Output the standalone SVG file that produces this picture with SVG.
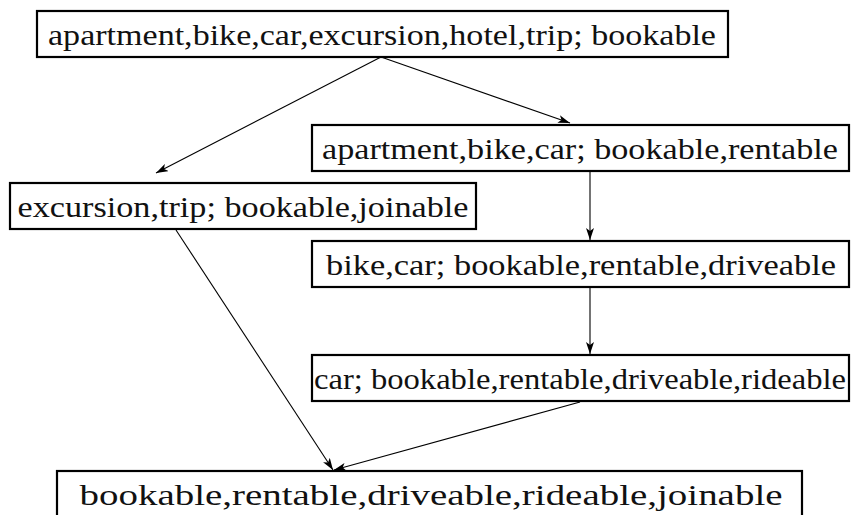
<svg xmlns="http://www.w3.org/2000/svg" width="867" height="515" viewBox="0 0 867 515">
  <style>
    .box { fill: #ffffff; stroke: #000000; stroke-width: 2.2; }
    .lbl { font-family: 'Liberation Serif', 'Times New Roman', serif; font-size: 29px; fill: #111111; text-anchor: middle; }
    .edge { fill: none; stroke: #000000; stroke-width: 1.1; marker-end: url(#arrow); }
  </style>
  <defs>
    <marker id="arrow" viewBox="0 0 12 8" refX="12" refY="4" markerWidth="12" markerHeight="8" markerUnits="userSpaceOnUse" orient="auto">
      <path d="M0,0 L12,4 L0,8 L3,4 Z" fill="#000000"/>
    </marker>
  </defs>

  <g id="connectors">
    <line class="edge" x1="381" y1="57" x2="156" y2="173"/>
    <line class="edge" x1="381" y1="57" x2="570" y2="123"/>
    <line class="edge" x1="590" y1="172" x2="590" y2="240"/>
    <line class="edge" x1="590" y1="288" x2="590" y2="354"/>
    <line class="edge" x1="176" y1="230" x2="333" y2="470"/>
    <line class="edge" x1="580" y1="402" x2="334" y2="470"/>
  </g>

  <g id="node-all">
    <rect class="box" x="37" y="11" width="691" height="46"/>
    <text class="lbl" x="382" y="45" textLength="668" lengthAdjust="spacingAndGlyphs">apartment,bike,car,excursion,hotel,trip;  bookable</text>
  </g>

  <g id="node-rentable">
    <rect class="box" x="312" y="125" width="537" height="46"/>
    <text class="lbl" x="580" y="159" textLength="516" lengthAdjust="spacingAndGlyphs">apartment,bike,car;  bookable,rentable</text>
  </g>

  <g id="node-joinable">
    <rect class="box" x="10" y="183" width="466" height="46"/>
    <text class="lbl" x="243" y="217" textLength="451" lengthAdjust="spacingAndGlyphs">excursion,trip;  bookable,joinable</text>
  </g>

  <g id="node-driveable">
    <rect class="box" x="312" y="241" width="537" height="46"/>
    <text class="lbl" x="581" y="275" textLength="510" lengthAdjust="spacingAndGlyphs">bike,car;  bookable,rentable,driveable</text>
  </g>

  <g id="node-rideable">
    <rect class="box" x="312" y="355" width="537" height="46"/>
    <text class="lbl" x="580" y="389" textLength="532" lengthAdjust="spacingAndGlyphs">car;  bookable,rentable,driveable,rideable</text>
  </g>

  <g id="node-bottom">
    <rect class="box" x="57" y="471" width="745" height="52"/>
    <text class="lbl" x="431" y="505" textLength="703" lengthAdjust="spacingAndGlyphs">bookable,rentable,driveable,rideable,joinable</text>
  </g>
</svg>
